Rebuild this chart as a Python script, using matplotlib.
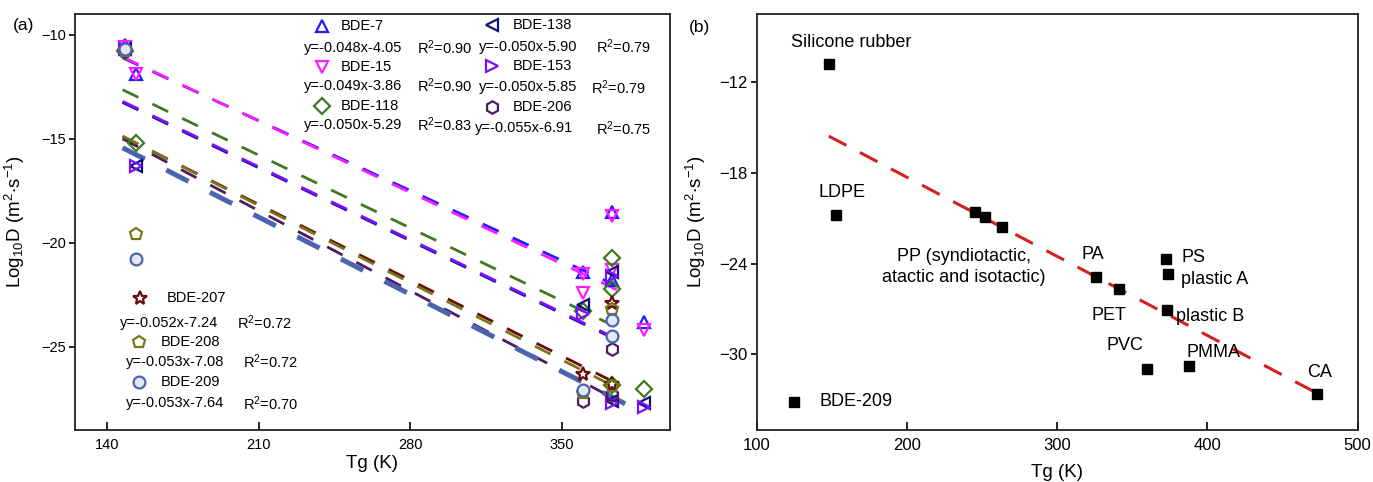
import numpy as np
import matplotlib.pyplot as plt

plt.rcParams['font.family'] = ['Liberation Sans', 'DejaVu Sans']
plt.rcParams['mathtext.fontset'] = 'custom'
plt.rcParams['mathtext.rm'] = 'Liberation Sans'
plt.rcParams['mathtext.it'] = 'Liberation Sans:italic'
plt.rcParams['mathtext.default'] = 'regular'

# ---- (a) log10 D of each BDE congener against polymer Tg (K)
bde_names = ['BDE-7', 'BDE-15', 'BDE-118', 'BDE-138', 'BDE-153',
             'BDE-206', 'BDE-207', 'BDE-208', 'BDE-209']
bde_tg = [
    [148, 153, 360, 373, 373, 388],
    [148, 153, 360, 360, 373, 373, 388],
    [148, 153, 360, 373, 373, 373, 388],
    [148, 153, 360, 373, 373, 388],
    [148, 153, 360, 373, 373, 388],
    [148, 360, 373, 373],
    [148, 360, 373, 373],
    [148, 153, 360, 373, 373],
    [148, 153, 360, 373, 373],
]
bde_logd = [
    [-10.5, -11.9, -21.4, -18.5, -21.8, -23.8],
    [-10.6, -11.9, -21.5, -22.4, -18.7, -21.3, -24.2],
    [-10.8, -15.2, -23.3, -20.75, -22.2, -26.85, -27.05],
    [-10.7, -16.3, -23.0, -21.4, -27.6, -27.7],
    [-10.7, -16.3, -23.4, -21.6, -27.7, -27.9],
    [-10.8, -27.6, -25.1, -27.3],
    [-10.8, -26.3, -22.9, -26.8],
    [-10.8, -19.6, -27.2, -23.2, -26.9],
    [-10.7, -20.8, -27.1, -23.7, -24.5],
]
fit_slope = [-0.048, -0.049, -0.050, -0.050, -0.050, -0.055, -0.052, -0.053, -0.053]
fit_intercept = [-4.05, -3.86, -5.29, -5.90, -5.85, -6.91, -7.24, -7.08, -7.64]
fit_r2 = [0.90, 0.90, 0.83, 0.79, 0.79, 0.75, 0.72, 0.72, 0.70]
fit_tmin = [147] * 9
fit_tmax = [378, 378, 378, 378, 378, 378, 378, 378, 388]

# ---- (b) log10 D of BDE-209 in different polymers against Tg (K)
poly_tg = [148, 153, 245, 252, 263, 326, 341, 372.4, 373.5, 373, 360, 388, 473, 125]
poly_logd = [-10.8, -20.8, -20.6, -20.9, -21.55, -24.9, -25.7, -23.7, -24.7,
             -27.1, -31.0, -30.8, -32.6, -33.15]
poly_labels = ['Silicone rubber', 'LDPE', 'PP (syndiotactic,\natactic and isotactic)',
               'PA', 'PET', 'PS', 'plastic A', 'plastic B', 'PVC', 'PMMA', 'CA', 'BDE-209']
trend_slope = -0.0523
trend_intercept = -7.83
trend_tg = [148, 473]

# styles
colors = ['#1c1cff', '#ff1cff', '#3f7a20', '#10107a', '#7a10ff',
          '#4e1a62', '#6a0a0a', '#77771a', '#4a64ae']
markers = ['^', 'v', 'D', '<', '>', 'h', '*', 'p', 'o']
msizes = [9, 9, 8, 9, 9, 9, 10, 9, 8.5]
label_xy = [(163, -9.4), (157, -19.3), (238, -24.2), (323.5, -23.4), (334.5, -27.45),
            (391, -23.6), (405, -25.05), (402, -27.5), (345, -29.4), (404, -29.9),
            (475, -31.2), (141.5, -33.1)]
# marker x, marker y, name x, equation x, equation y, R2 x (axes fraction)
legend_pos = [
    (0.415, 0.971, 0.446, 0.385, 0.918, 0.575),
    (0.415, 0.873, 0.446, 0.385, 0.827, 0.575),
    (0.415, 0.779, 0.446, 0.385, 0.733, 0.575),
    (0.700, 0.974, 0.736, 0.679, 0.921, 0.876),
    (0.700, 0.875, 0.736, 0.679, 0.824, 0.868),
    (0.700, 0.777, 0.736, 0.672, 0.725, 0.876),
    (0.109, 0.317, 0.154, 0.076, 0.258, 0.272),
    (0.108, 0.212, 0.145, 0.086, 0.163, 0.282),
    (0.108, 0.116, 0.145, 0.086, 0.064, 0.282),
]

fig = plt.figure(figsize=(13.73, 4.82), dpi=100)
ax1 = fig.add_axes([0.0546, 0.1079, 0.4334, 0.863])
ax2 = fig.add_axes([0.5511, 0.1079, 0.4377, 0.863])

# regression lines
for i in range(len(bde_names)):
    t = np.array([fit_tmin[i], fit_tmax[i]])
    y = fit_slope[i] * t + fit_intercept[i]
    if bde_names[i] == 'BDE-209':
        ax1.plot(t, y, color=colors[i], lw=3.6, dashes=(5, 4.8), solid_capstyle='round', zorder=2)
    else:
        ax1.plot(t, y, color=colors[i], lw=2.0, dashes=(6.3, 5.6), zorder=2)

# measured points
for i in range(len(bde_names)):
    ax1.plot(bde_tg[i], bde_logd[i], ls='none', marker=markers[i], ms=msizes[i],
             mfc='none' if i < 8 else '#e4e8f2', mec=colors[i], mew=1.6, zorder=3)

# legend blocks with the fitted equations
for i, (mx, my, nx, ex, ey, rx) in enumerate(legend_pos):
    ax1.plot(mx, my, transform=ax1.transAxes, ls='none', marker=markers[i], ms=msizes[i],
             mfc='none' if i < 8 else '#e4e8f2', mec=colors[i], mew=1.6, clip_on=False)
    ax1.text(nx, my, bde_names[i], transform=ax1.transAxes, ha='left', va='center', fontsize=10.5)
    ax1.text(ex, ey, f'y={fit_slope[i]:.3f}x{fit_intercept[i]:.2f}', transform=ax1.transAxes,
             ha='left', va='center', fontsize=10.5)
    ax1.text(rx, ey, f'R$^2$={fit_r2[i]:.2f}', transform=ax1.transAxes,
             ha='left', va='center', fontsize=10.5)

ax1.set_xlim(125, 400)
ax1.set_ylim(-29, -9)
ax1.set_xticks([140, 210, 280, 350])
ax1.set_yticks([-10, -15, -20, -25])
ax1.set_xlabel('Tg (K)', fontsize=13.5, labelpad=2)
ax1.set_ylabel(r'Log$_{10}$D (m$^2$$\cdot$s$^{-1}$)', fontsize=13.5, labelpad=10)

# (b)
ax2.plot(trend_tg, trend_slope * np.array(trend_tg) + trend_intercept, color='#d42020',
         lw=2.2, dashes=(6.5, 5), zorder=2)
ax2.plot(poly_tg, poly_logd, ls='none', marker='s', ms=6.5, color='black', zorder=3)
for lab, (lx, ly) in zip(poly_labels, label_xy):
    ha = 'left' if lab == 'BDE-209' else 'center'
    ax2.text(lx, ly, lab, ha=ha, va='center', fontsize=13, linespacing=1.3)

ax2.set_xlim(100, 500)
ax2.set_ylim(-35, -7.5)
ax2.set_xticks([100, 200, 300, 400, 500])
ax2.set_yticks([-12, -18, -24, -30])
ax2.set_xlabel('Tg (K)', fontsize=13.5, labelpad=8)
ax2.set_ylabel(r'Log$_{10}$D (m$^2$$\cdot$s$^{-1}$)', fontsize=13.5, labelpad=8)

for ax, fs in [(ax1, 10.5), (ax2, 12)]:
    for s in ax.spines.values():
        s.set_linewidth(1.3)
        s.set_color('#222222')
    ax.tick_params(axis='x', direction='in', length=6, width=1.2, pad=6, labelsize=fs)
    ax.tick_params(axis='y', direction='out', length=4.5, width=1.2, pad=2, labelsize=fs)

fig.text(0.0168, 0.948, '(a)', fontsize=12.5, ha='center', va='center')
fig.text(0.5095, 0.942, '(b)', fontsize=12.5, ha='center', va='center')

fig.savefig('out.png', dpi=100)
